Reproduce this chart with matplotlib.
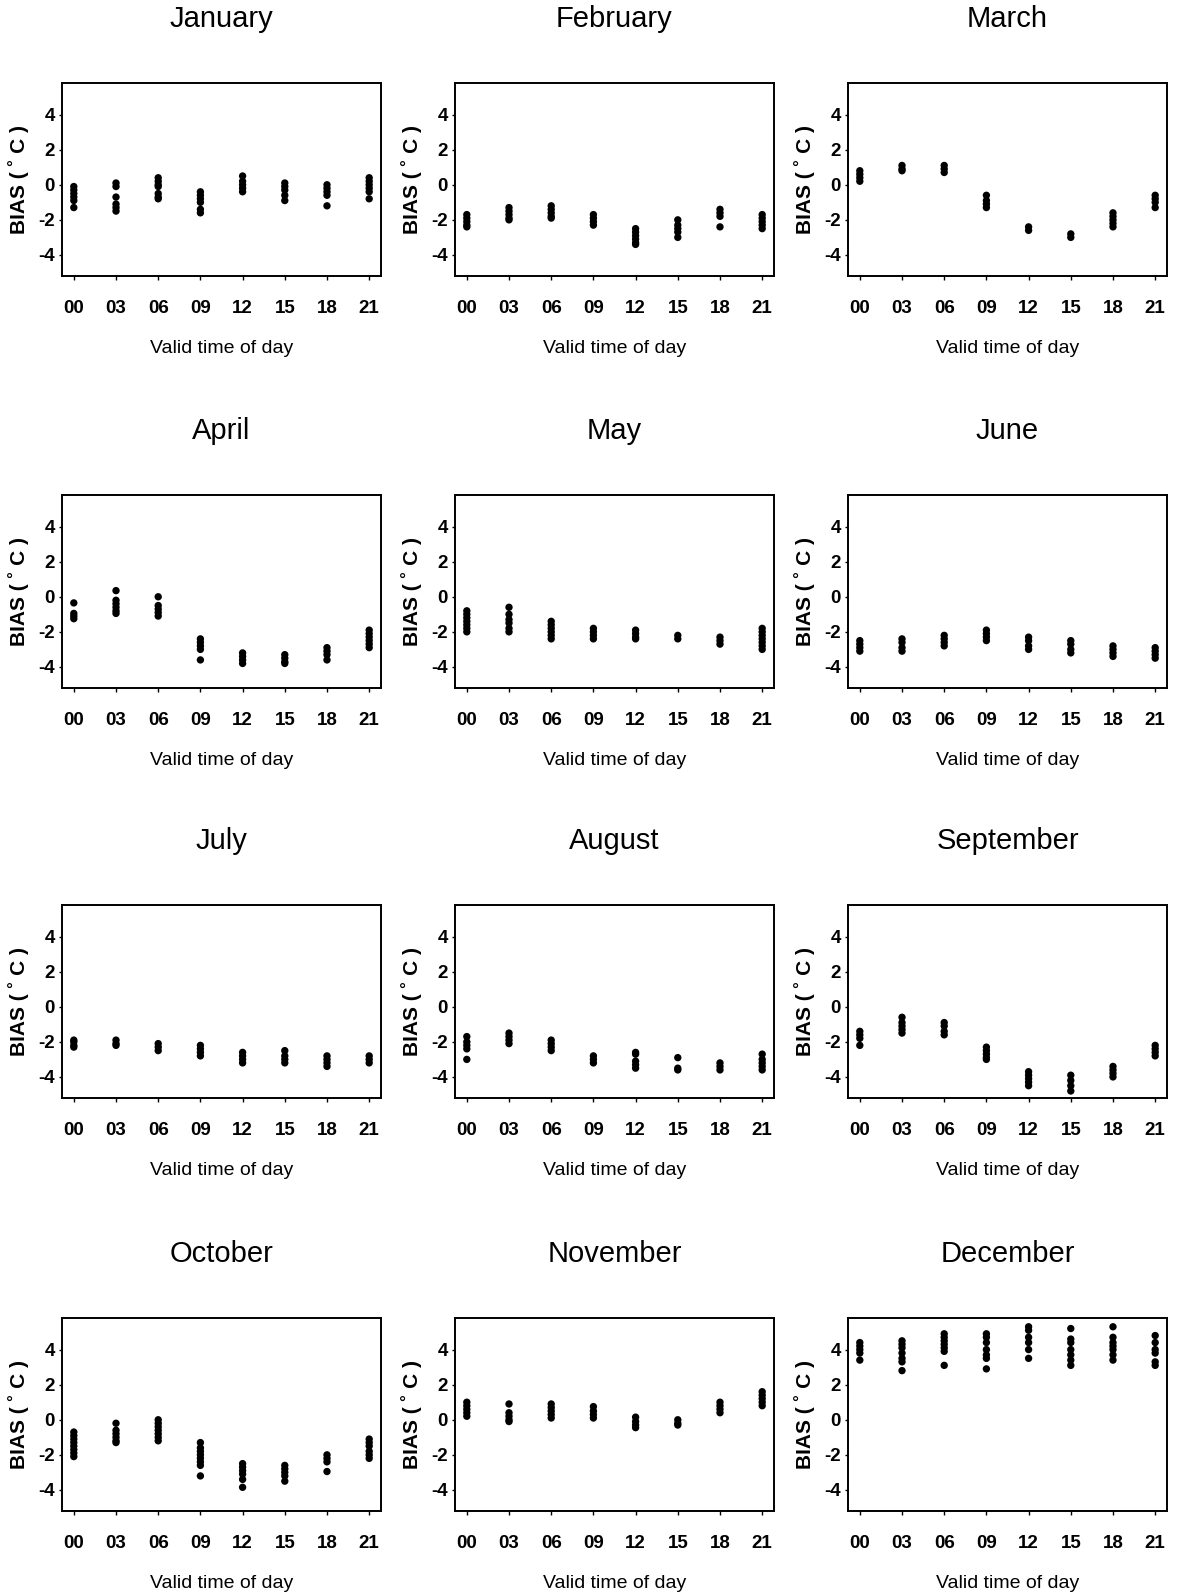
import matplotlib
matplotlib.use("Agg")
import matplotlib.pyplot as plt

plt.rcParams['font.family'] = ['Liberation Sans', 'DejaVu Sans']

months = ["January", "February", "March", "April", "May", "June",
          "July", "August", "September", "October", "November", "December"]
hour_labels = ["00", "03", "06", "09", "12", "15", "18", "21"]
y_ticks = [-4, -2, 0, 2, 4]

# BIAS values (deg C) per valid time, one list of lists per month
jan = [[-0.1, -0.3, -0.5, -0.7, -0.9, -1.3], [0.1, -0.1, -0.7, -1.1, -1.3, -1.5],
       [0.4, 0.2, 0.0, -0.1, -0.5, -0.7, -0.8], [-0.4, -0.6, -0.8, -1.0, -1.4, -1.6],
       [0.5, 0.2, 0.0, -0.2, -0.4], [0.1, -0.1, -0.3, -0.6, -0.9],
       [0.0, -0.2, -0.4, -0.6, -1.2], [0.4, 0.2, 0.0, -0.2, -0.4, -0.8]]
feb = [[-1.7, -1.9, -2.1, -2.3, -2.4], [-1.3, -1.5, -1.7, -1.9, -2.0],
       [-1.2, -1.4, -1.6, -1.8, -1.9], [-1.7, -1.9, -2.1, -2.3],
       [-2.5, -2.7, -2.9, -3.1, -3.3, -3.4], [-2.0, -2.3, -2.5, -2.7, -3.0],
       [-1.4, -1.6, -1.8, -2.4], [-1.7, -1.9, -2.1, -2.3, -2.5]]
mar = [[0.8, 0.6, 0.4, 0.2], [1.1, 0.9, 0.8], [1.1, 0.9, 0.7], [-0.6, -0.9, -1.1, -1.3],
       [-2.4, -2.6], [-2.8, -3.0], [-1.6, -1.8, -2.0, -2.2, -2.4], [-0.6, -0.8, -1.0, -1.3]]
apr = [[-0.35, -0.95, -1.1, -1.25], [0.35, -0.2, -0.4, -0.6, -0.8, -0.95],
       [0.0, -0.5, -0.7, -0.9, -1.1], [-2.4, -2.6, -2.8, -3.0, -3.6],
       [-3.2, -3.4, -3.6, -3.8], [-3.3, -3.5, -3.7, -3.8],
       [-2.9, -3.1, -3.3, -3.6], [-1.9, -2.1, -2.3, -2.5, -2.7, -2.9]]
may = [[-0.8, -1.0, -1.2, -1.4, -1.6, -1.8, -2.0], [-0.6, -1.0, -1.3, -1.5, -1.8, -2.0],
       [-1.4, -1.6, -1.8, -2.0, -2.2, -2.4], [-1.8, -2.0, -2.2, -2.4],
       [-1.9, -2.1, -2.3, -2.4], [-2.2, -2.4], [-2.3, -2.5, -2.7],
       [-1.8, -2.0, -2.2, -2.4, -2.6, -2.8, -3.0]]
jun = [[-2.5, -2.7, -2.9, -3.1], [-2.4, -2.6, -2.9, -3.1], [-2.2, -2.4, -2.6, -2.8],
       [-1.9, -2.1, -2.3, -2.5], [-2.3, -2.5, -2.8, -3.0], [-2.5, -2.7, -3.0, -3.2],
       [-2.8, -3.0, -3.2, -3.4], [-2.9, -3.1, -3.3, -3.5]]
jul = [[-1.9, -2.0, -2.2, -2.3], [-1.9, -2.1, -2.2], [-2.1, -2.3, -2.5],
       [-2.2, -2.4, -2.6, -2.8], [-2.6, -2.8, -3.0, -3.2], [-2.5, -2.8, -3.0, -3.2],
       [-2.8, -3.0, -3.2, -3.4], [-2.8, -3.0, -3.2]]
aug = [[-1.7, -2.0, -2.2, -2.4, -3.0], [-1.5, -1.7, -1.9, -2.1], [-1.9, -2.1, -2.3, -2.5],
       [-2.8, -3.0, -3.2], [-2.6, -2.7, -3.1, -3.3, -3.5], [-2.9, -3.5, -3.6],
       [-3.2, -3.4, -3.6], [-2.7, -3.0, -3.2, -3.4, -3.6]]
sep = [[-1.4, -1.6, -1.8, -2.2], [-0.6, -0.9, -1.1, -1.3, -1.5], [-0.9, -1.1, -1.4, -1.6],
       [-2.3, -2.5, -2.7, -2.9, -3.0], [-3.7, -3.9, -4.1, -4.3, -4.5],
       [-3.9, -4.2, -4.5, -4.8], [-3.4, -3.6, -3.8, -4.0], [-2.2, -2.4, -2.6, -2.8]]
oct_ = [[-0.7, -0.9, -1.1, -1.3, -1.5, -1.7, -1.9, -2.1], [-0.2, -0.6, -0.8, -1.0, -1.2, -1.3],
        [0.0, -0.2, -0.4, -0.6, -0.8, -1.0, -1.2], [-1.3, -1.6, -1.8, -2.0, -2.2, -2.4, -2.6, -3.2],
        [-2.5, -2.7, -2.9, -3.1, -3.4, -3.85], [-2.6, -2.8, -3.0, -3.2, -3.5],
        [-2.0, -2.2, -2.4, -2.95], [-1.1, -1.3, -1.5, -1.8, -2.0, -2.2]]
nov = [[1.0, 0.8, 0.6, 0.4, 0.2], [0.9, 0.4, 0.2, 0.0, -0.1], [0.9, 0.7, 0.5, 0.3, 0.1],
       [0.75, 0.5, 0.3, 0.1], [0.15, -0.1, -0.3, -0.45], [0.0, -0.2, -0.3],
       [1.0, 0.8, 0.6, 0.4], [1.6, 1.4, 1.2, 1.0, 0.8]]
dec = [[4.4, 4.2, 4.0, 3.8, 3.4], [4.5, 4.3, 4.1, 3.8, 3.5, 3.3, 2.8],
       [4.9, 4.7, 4.5, 4.3, 4.1, 3.9, 3.1], [4.9, 4.7, 4.4, 4.0, 3.7, 3.5, 2.9],
       [5.3, 5.1, 4.7, 4.4, 4.0, 3.5], [5.2, 4.6, 4.4, 4.0, 3.7, 3.4, 3.1],
       [5.3, 4.7, 4.4, 4.2, 4.0, 3.7, 3.4], [4.8, 4.4, 4.0, 3.8, 3.3, 3.1]]

month_data = [jan, feb, mar, apr, may, jun, jul, aug, sep, oct_, nov, dec]

W, H = 1178, 1592
fig = plt.figure(figsize=(W / 100, H / 100), dpi=100)

col_left = [62, 455, 848]
row_top = [83, 495, 905, 1318]
ax_w, ax_h = 319, 193

for i, (name, data) in enumerate(zip(months, month_data)):
    r, c = divmod(i, 3)
    left = col_left[c] / W
    bottom = 1 - (row_top[r] + ax_h) / H
    ax = fig.add_axes([left, bottom, ax_w / W, ax_h / H])
    for j, vals in enumerate(data):
        ax.scatter([j] * len(vals), vals, s=28, color='black', edgecolors='none', zorder=3)
    ax.set_xlim(-0.28, 7.28)
    ax.set_ylim(-5.2, 5.8)
    ax.set_xticks(range(len(hour_labels)))
    ax.set_xticklabels(hour_labels)
    ax.set_yticks(y_ticks)
    ax.set_yticklabels([str(v) for v in y_ticks])
    ax.tick_params(axis='x', direction='out', length=3, width=1, pad=14, labelsize=13.5)
    ax.tick_params(axis='y', direction='out', length=2, width=1, pad=3, labelsize=13.5)
    for lab in ax.get_xticklabels() + ax.get_yticklabels():
        lab.set_fontweight('bold')
    for sp in ax.spines.values():
        sp.set_linewidth(1.4)
    ax.set_xlabel("Valid time of day", fontsize=14, labelpad=17)
    ax.text(-43 / ax_w, 0.5, "BIAS ( ˚ C )", transform=ax.transAxes, rotation=90,
            ha='center', va='center', fontsize=15, fontweight='bold')
    ax.text(0.5, 1 + 64 / ax_h, name, transform=ax.transAxes, ha='center',
            va='center', fontsize=21)

fig.savefig("out.png", dpi=100)
